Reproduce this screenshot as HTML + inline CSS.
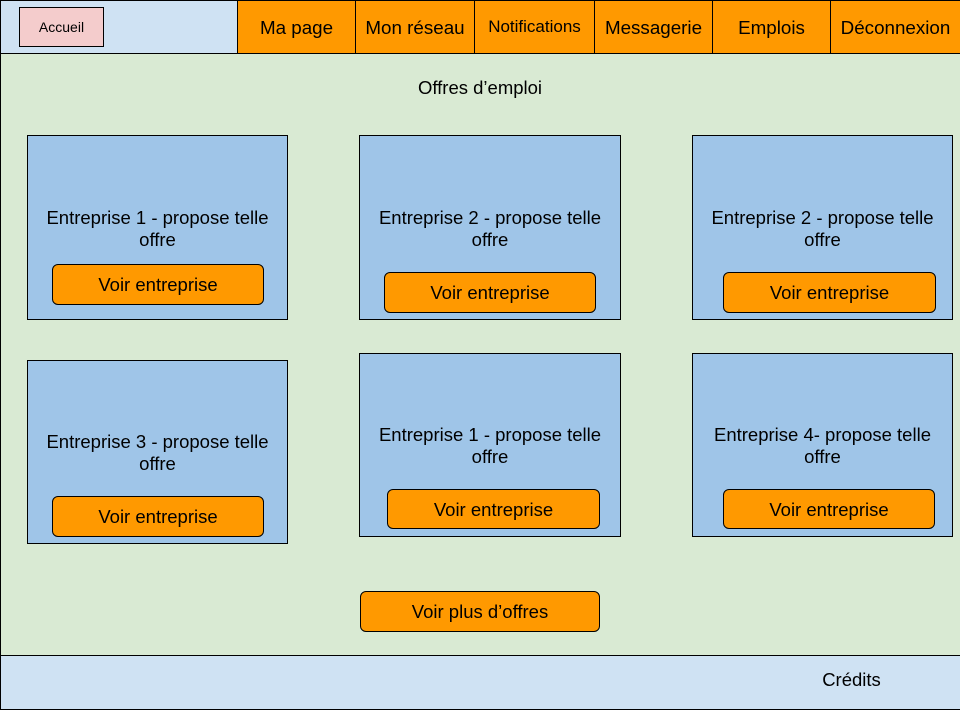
<!DOCTYPE html>
<html><head><meta charset="utf-8"><style>
body{margin:0;width:960px;height:720px;background:#fff;position:relative;font-family:"Liberation Sans",Arial,sans-serif;color:#000;overflow:hidden}
div{position:absolute;box-sizing:border-box;display:flex;align-items:center;justify-content:center;text-align:center}
.nav{top:0;height:54px;background:#ff9900;border:1px solid #000;font-size:18.8px;padding-top:2px}
.card{background:#9fc5e8;border:1px solid #000}
.btn{background:#ff9900;border:1px solid #000;border-radius:6px;font-size:18.5px;padding-top:1px}
.t{font-size:18.5px;line-height:22px}
</style></head><body>
<div style="left:0;top:0;width:238px;height:54px;background:#cfe2f3;border:1px solid #000"></div>
<div style="left:19px;top:7px;width:85px;height:40px;background:#f4cccc;border:1px solid #000;font-size:14px">Accueil</div>
<div class="nav" style="left:237px;width:119px">Ma page</div>
<div class="nav" style="left:355px;width:120px">Mon réseau</div>
<div class="nav" style="left:474px;width:121px;font-size:17px;padding-top:0;padding-bottom:1px">Notifications</div>
<div class="nav" style="left:594px;width:119px">Messagerie</div>
<div class="nav" style="left:712px;width:119px">Emplois</div>
<div class="nav" style="left:830px;width:131px">Déconnexion</div>
<div style="left:0;top:53px;width:961px;height:603px;background:#d9ead3;border:1px solid #000"></div>
<div class="t" style="left:380px;top:77px;width:200px">Offres d’emploi</div>

<div class="card" style="left:27px;top:135px;width:261px;height:185px"></div>
<div class="t" style="left:27px;top:207px;width:261px">Entreprise 1 - propose telle<br>offre</div>
<div class="btn" style="left:52px;top:264px;width:212px;height:41px">Voir entreprise</div>

<div class="card" style="left:359px;top:135px;width:262px;height:185px"></div>
<div class="t" style="left:359px;top:207px;width:262px">Entreprise 2 - propose telle<br>offre</div>
<div class="btn" style="left:384px;top:272px;width:212px;height:41px">Voir entreprise</div>

<div class="card" style="left:692px;top:135px;width:261px;height:185px"></div>
<div class="t" style="left:692px;top:207px;width:261px">Entreprise 2 - propose telle<br>offre</div>
<div class="btn" style="left:723px;top:272px;width:213px;height:41px">Voir entreprise</div>

<div class="card" style="left:27px;top:360px;width:261px;height:184px"></div>
<div class="t" style="left:27px;top:431px;width:261px">Entreprise 3 - propose telle<br>offre</div>
<div class="btn" style="left:52px;top:496px;width:212px;height:41px">Voir entreprise</div>

<div class="card" style="left:359px;top:353px;width:262px;height:184px"></div>
<div class="t" style="left:359px;top:424px;width:262px">Entreprise 1 - propose telle<br>offre</div>
<div class="btn" style="left:387px;top:489px;width:213px;height:40px">Voir entreprise</div>

<div class="card" style="left:692px;top:353px;width:261px;height:184px"></div>
<div class="t" style="left:692px;top:424px;width:261px">Entreprise 4- propose telle<br>offre</div>
<div class="btn" style="left:723px;top:489px;width:212px;height:40px">Voir entreprise</div>

<div class="btn" style="left:360px;top:591px;width:240px;height:41px">Voir plus d’offres</div>
<div style="left:0;top:655px;width:961px;height:55px;background:#cfe2f3;border:1px solid #000"></div>
<div class="t" style="left:800px;top:669px;width:103px">Crédits</div>
</body></html>
